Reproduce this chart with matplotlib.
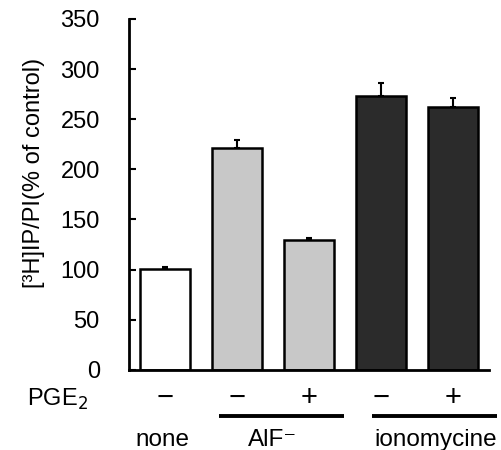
import numpy as np
import matplotlib
matplotlib.use("Agg")
import matplotlib.pyplot as plt

# data
groups = ["none", "AlF\u207b", "ionomycine"]
pge2 = ["\u2212", "\u2212", "+", "\u2212", "+"]
values = [101, 221, 130, 273, 262]
errors = [1.5, 8, 1.5, 13, 9]
colors = ["#ffffff", "#c8c8c8", "#c8c8c8", "#2b2b2b", "#2b2b2b"]

plt.rcParams['font.family'] = ['Liberation Sans', 'DejaVu Sans']

fig = plt.figure(figsize=(5.01, 4.5), dpi=100)
ax = fig.add_axes([0.2575, 0.178, 0.976 - 0.2575, 0.78])

x = np.arange(len(values))
ax.bar(x, values, width=0.69, color=colors, edgecolor="black", linewidth=1.8, zorder=2)
ax.errorbar(x, values, yerr=[np.zeros(len(errors)), errors], fmt="none",
            ecolor="black", elinewidth=1.5, capsize=2.5, capthick=1.5, zorder=1)

ax.set_xlim(-0.5, 4.5)
ax.set_ylim(0, 350)
ax.set_yticks(np.arange(0, 351, 50))
ax.set_xticks([])
ax.tick_params(axis="y", direction="in", length=5, width=1.5, labelsize=17, pad=21)
for s in ["top", "right"]:
    ax.spines[s].set_visible(False)
for s in ["left", "bottom"]:
    ax.spines[s].set_linewidth(2)

ax.set_ylabel("[\u00b3H]IP/PI(% of control)", fontsize=17, va="center")
ax.yaxis.set_label_coords(-0.265, 0.56)

trans = ax.get_xaxis_transform()
# PGE2 row
ax.text(-1.5, -0.085, "PGE$_{\\mathsf{2}}$", transform=trans, ha="center", va="center",
        fontsize=17, clip_on=False)
for xi, s in zip(x, pge2):
    ax.text(xi, -0.08, s, transform=trans, ha="center", va="center", fontsize=21, clip_on=False)

# group underlines
ax.plot([0.75, 2.49], [-0.131, -0.131], transform=trans, color="black", lw=2.8,
        clip_on=False, solid_capstyle="butt")
ax.plot([2.875, 4.61], [-0.131, -0.131], transform=trans, color="black", lw=2.8,
        clip_on=False, solid_capstyle="butt")

# group labels
label_pos = [-0.03, 1.5, 3.76]
for xp, g in zip(label_pos, groups):
    ax.text(xp, -0.2, g, transform=trans, ha="center", va="center", fontsize=17.5, clip_on=False)

fig.savefig("out.png", dpi=100)
